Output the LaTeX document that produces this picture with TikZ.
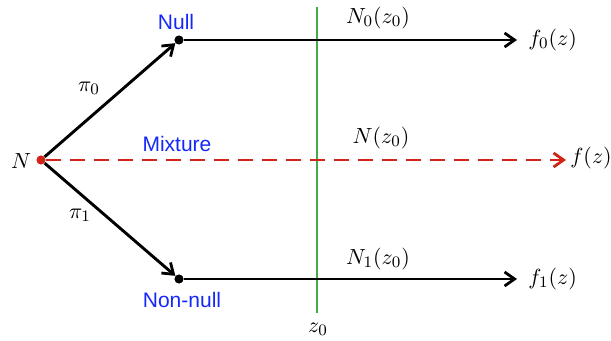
\documentclass[tikz,border=0pt]{standalone}
\usepackage{fontspec}
\setsansfont{Liberation Sans}
\usetikzlibrary{arrows.meta}
\definecolor{lblblue}{RGB}{20,40,250}
\definecolor{mixred}{RGB}{210,35,25}
\definecolor{zgreen}{RGB}{70,170,70}
\tikzset{
  flow/.style={line width=1.45pt, -{Straight Barb[length=5pt,width=7pt,line width=1.4pt]}},
  mixflow/.style={line width=1.45pt, color=mixred, dash pattern=on 7.5pt off 4.5pt, -{Straight Barb[length=5pt,width=7pt,line width=1.4pt]}},
  dotb/.style={circle, fill=black, inner sep=0pt, minimum size=4.4pt},
  dotr/.style={circle, fill=mixred, inner sep=0pt, minimum size=4.4pt},
  blab/.style={font=\sffamily\fontsize{10.5}{12}\selectfont, text=lblblue, inner sep=1pt},
  mlab/.style={font=\fontsize{11}{13}\selectfont, inner sep=1pt},
}
\begin{document}
\begin{tikzpicture}[x=0.5pt,y=-0.5pt]
\useasboundingbox (0,0) rectangle (611,341);
% nodes
\node[dotr] (N) at (41,160) {};
\node[dotb] (null) at (179,40) {};
\node[dotb] (nonnull) at (179,279) {};
\node[mlab] (Nlab) at (21,161) {$N$};
\node[mlab, anchor=west, inner sep=0pt] (f0) at (528,40) {$f_0(z)$};
\node[mlab, anchor=west, inner sep=0pt] (fm) at (570,158) {$f(z)$};
\node[mlab, anchor=west, inner sep=0pt] (f1) at (528,279) {$f_1(z)$};
\coordinate (gt) at (317,7);
\coordinate (gb) at (317,313);
% labels
\node[blab] (nulllab) at (176,22) {Null};
\node[blab] (mixlab) at (177,144) {Mixture};
\node[blab] (nnlab) at (182,300) {Non-null};
\node[mlab] (pi0) at (89,88) {$\pi_0$};
\node[mlab] (pi1) at (80,215) {$\pi_1$};
\node[mlab] (n0lab) at (378,18) {$N_0(z_0)$};
\node[mlab] (nmlab) at (381,138) {$N(z_0)$};
\node[mlab] (n1lab) at (378,259) {$N_1(z_0)$};
\node[mlab] (z0lab) at (318,329) {$z_0$};
% connectors
\draw[line width=1.45pt, color=zgreen] (gt) -- (gb);
\draw[mixflow, shorten >=2pt] (N) -- (fm.west |- N);
\draw[flow] (N) -- (null);
\draw[flow] (N) -- (nonnull);
\draw[flow, shorten >=5.5pt] (null) -- (f0.west);
\draw[flow, shorten >=5.5pt] (nonnull) -- (f1.west);
\node[dotr] at (N) {};
\node[dotb] at (null) {};
\node[dotb] at (nonnull) {};
\end{tikzpicture}
\end{document}
